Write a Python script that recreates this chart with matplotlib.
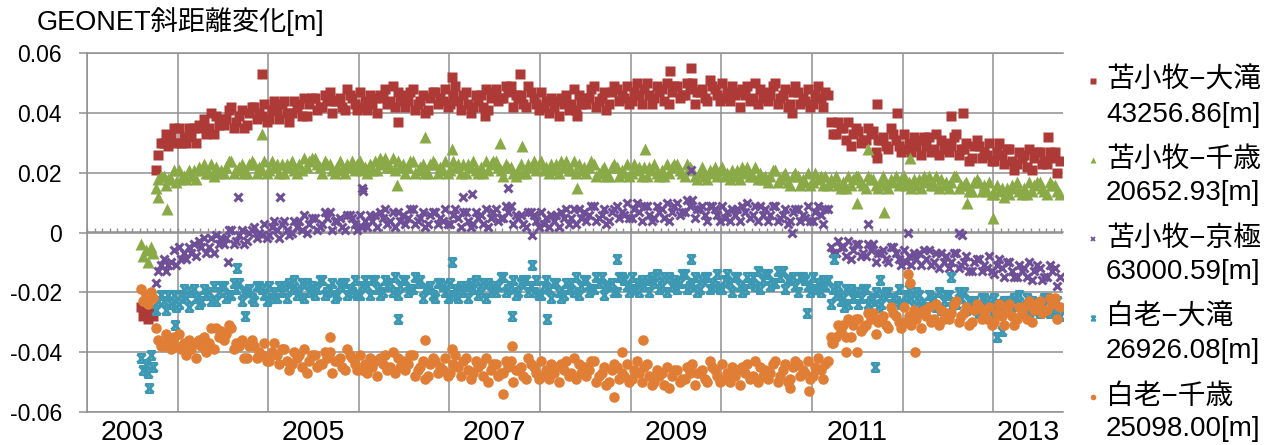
"""
GEONET slope-distance change, Tomakomai / Shiraoi baselines, 2003-2013.
Writes out.png
"""

import numpy as np
import pandas as pd
import matplotlib
matplotlib.use("Agg")
import matplotlib.pyplot as plt
from matplotlib.lines import Line2D
from matplotlib.path import Path
from matplotlib.ticker import FixedLocator, MultipleLocator, NullFormatter

plt.rcParams["font.family"] = ["Liberation Sans", "Noto Sans CJK JP"]
plt.rcParams["axes.unicode_minus"] = False

# ---------------------------------------------------------------------------
# Data: three readings per month (days 5, 15, 25), Aug 2003 - Sep 2013, in mm
# ---------------------------------------------------------------------------
MONTHS = pd.period_range("2003-08", "2013-09", freq="M")
DAYS = [5, 15, 25]

NAMES = ["苫小牧−大滝", "苫小牧−千歳", "苫小牧−京極", "白老−大滝", "白老−千歳"]
LENGTHS = ["43256.86[m]", "20652.93[m]", "63000.59[m]", "26926.08[m]", "25098.00[m]"]

TOMA_OTAKI = [
    -25, -28, -27, -29, -26, -28, 21, 26, 30, 30, 33, 29, 32, 35, 30,
    35, 30, 32, 30, 35, 32, 35, 30, 36, 35, 38, 33, 35, 40, 33, 39, 36, 38, 36, 38, 41, 42, 35, 37, 39, 41, 35, 36, 40, 42, 42, 38, 40, 39, 43, 37,
    38, 41, 44, 41, 38, 43, 44, 40, 37, 40, 44, 42, 43, 39, 45, 39, 43, 45, 45, 41, 42, 42, 46, 44, 47, 40, 44, 44, 45, 42, 41, 48, 46, 45, 43, 41,
    47, 42, 44, 41, 46, 43, 45, 40, 46, 45, 48, 43, 44, 49, 42, 47, 44, 46, 42, 44, 47, 48, 41, 43, 44, 46, 40, 41, 45, 47, 47, 43, 45, 44, 48, 42,
    43, 46, 49, 44, 41, 46, 47, 43, 40, 42, 46, 44, 46, 42, 48, 41, 45, 47, 48, 44, 45, 45, 49, 47, 49, 42, 46, 45, 46, 43, 42, 49, 47, 45, 43, 41,
    47, 42, 44, 40, 45, 42, 44, 39, 45, 43, 46, 41, 43, 48, 41, 46, 43, 45, 43, 45, 48, 49, 42, 44, 45, 47, 41, 43, 47, 49, 48, 44, 46, 45, 49, 43,
    44, 47, 50, 46, 43, 48, 50, 46, 43, 45, 49, 47, 48, 44, 50, 43, 47, 49, 49, 45, 46, 46, 50, 48, 50, 43, 47, 47, 48, 45, 44, 51, 49, 48, 46, 44,
    50, 45, 47, 44, 49, 46, 47, 42, 48, 46, 49, 44, 45, 50, 43, 48, 45, 47, 44, 46, 49, 50, 43, 45, 46, 48, 42, 43, 47, 49, 47, 43, 45, 44, 48, 42,
    43, 46, 49, 45, 42, 47, 46, 37, 33, 33, 37, 35, 35, 31, 37, 29, 33, 35, 34, 30, 31, 31, 35, 33, 34, 27, 31, 31, 32, 29, 28, 35, 33, 31, 29, 27,
    33, 28, 30, 27, 32, 29, 31, 26, 32, 29, 32, 27, 28, 33, 26, 31, 28, 30, 27, 29, 32, 33, 26, 28, 28, 30, 24, 25, 29, 31, 29, 25, 27, 26, 30, 24,
    24, 27, 30, 26, 23, 28, 28, 24, 21, 23, 27, 25, 26, 22, 28, 21, 25, 27, 27, 23, 24, 23, 27, 25, 27, 20, 24,
]
TOMA_CHITOSE = [
    -4, -8, -6, -10, -5, -7, 15, 18, 19, 19, 16, 18, 18, 21, 17,
    21, 18, 19, 18, 21, 19, 21, 18, 22, 21, 23, 20, 20, 23, 19, 22, 20, 21, 20, 22, 24, 24, 20, 21, 22, 23, 20, 20, 23, 24, 23, 20, 22, 21, 24, 20,
    21, 24, 22, 23, 20, 23, 20, 23, 22, 24, 21, 20, 23, 21, 25, 22, 24, 25, 25, 23, 22, 20, 24, 23, 23, 21, 20, 22, 24, 21, 20, 23, 22, 24, 21, 23,
    24, 21, 22, 20, 23, 21, 24, 21, 25, 23, 25, 22, 22, 25, 21, 24, 22, 23, 20, 22, 24, 24, 20, 21, 22, 23, 20, 20, 23, 24, 23, 20, 22, 21, 24, 20,
    21, 24, 22, 23, 20, 23, 20, 23, 22, 24, 21, 20, 22, 20, 24, 21, 23, 24, 24, 22, 21, 19, 23, 22, 22, 20, 19, 21, 23, 20, 20, 23, 22, 24, 21, 23,
    24, 21, 22, 20, 23, 21, 23, 20, 24, 22, 24, 21, 21, 24, 20, 23, 21, 22, 20, 22, 24, 23, 19, 20, 21, 22, 19, 19, 22, 23, 22, 19, 21, 20, 23, 19,
    20, 23, 21, 22, 19, 22, 19, 22, 21, 23, 20, 19, 21, 19, 23, 20, 22, 23, 23, 21, 20, 19, 23, 22, 21, 19, 18, 20, 22, 19, 18, 21, 20, 22, 19, 21,
    22, 19, 20, 18, 21, 19, 21, 18, 22, 20, 22, 19, 19, 22, 18, 20, 18, 19, 17, 19, 21, 21, 17, 18, 19, 20, 17, 16, 19, 20, 19, 16, 18, 17, 20, 16,
    17, 20, 18, 19, 16, 19, 16, 18, 17, 19, 16, 15, 17, 15, 19, 16, 18, 19, 19, 17, 16, 15, 19, 18, 18, 16, 15, 17, 19, 16, 15, 18, 17, 19, 16, 18,
    19, 16, 17, 15, 18, 16, 18, 15, 19, 17, 19, 16, 16, 19, 15, 18, 16, 17, 15, 17, 19, 19, 15, 16, 16, 17, 14, 14, 17, 18, 17, 14, 16, 14, 17, 13,
    13, 16, 14, 15, 12, 15, 13, 16, 15, 17, 14, 13, 15, 13, 17, 14, 16, 17, 17, 15, 14, 13, 17, 16, 16, 14, 13,
]
TOMA_KYOGOKU = [
    np.nan, np.nan, np.nan, np.nan, np.nan, np.nan, -17, -13, -11, -9, -13, -11, -10, -6, -11,
    -5, -9, -7, -9, -5, -7, -4, -8, -3, -5, -2, -7, -5, -2, -7, -1, -4, -2, -4, -2, 1, 1, -4, -3, -1, 1, -4, -3, 0, 1, 2, -2, 0, -1, 3, -2,
    -1, 2, 4, 1, -2, 3, 4, 1, -1, 0, 4, 2, 4, 1, 6, 0, 3, 5, 5, 1, 2, 3, 7, 5, 7, 1, 4, 4, 5, 2, 1, 6, 6, 5, 3, 1,
    6, 2, 4, 2, 6, 4, 6, 2, 7, 5, 8, 3, 4, 7, 2, 7, 4, 6, 3, 5, 8, 8, 3, 4, 5, 7, 2, 3, 6, 7, 7, 3, 5, 4, 8, 3,
    3, 6, 8, 5, 2, 7, 7, 4, 2, 3, 7, 5, 6, 3, 8, 2, 5, 7, 8, 4, 5, 5, 9, 7, 9, 3, 6, 5, 6, 3, 2, 7, 7, 6, 4, 2,
    7, 3, 5, 2, 6, 4, 6, 2, 7, 5, 8, 3, 5, 8, 3, 8, 5, 7, 4, 6, 9, 9, 4, 5, 6, 8, 3, 4, 7, 8, 9, 5, 7, 6, 10, 5,
    5, 8, 10, 7, 4, 9, 9, 6, 4, 5, 9, 7, 8, 5, 10, 4, 7, 9, 10, 6, 7, 7, 11, 9, 11, 5, 8, 8, 9, 6, 4, 9, 9, 8, 6, 4,
    9, 5, 7, 4, 8, 6, 8, 4, 9, 7, 10, 5, 6, 9, 4, 9, 6, 8, 4, 6, 9, 9, 4, 5, 6, 8, 3, 4, 7, 8, 8, 4, 6, 5, 9, 4,
    4, 7, 9, 6, 3, 8, 8, -5, -7, -7, -3, -5, -5, -8, -3, -9, -6, -4, -4, -8, -7, -8, -4, -6, -4, -10, -7, -7, -6, -9, -10, -5, -5, -7, -9, -11,
    -6, -10, -8, -11, -7, -9, -7, -11, -6, -9, -6, -11, -10, -7, -12, -7, -10, -8, -12, -10, -7, -7, -12, -11, -10, -8, -13, -13, -10, -9, -9, -13, -11, -12, -8, -13,
    -14, -11, -9, -12, -15, -10, -10, -13, -15, -15, -11, -13, -12, -15, -10, -16, -13, -11, -12, -16, -15, -15, -11, -13, -12, -18, -15,
]
SHIRA_OTAKI = [
    -42, -46, -44, -47, -41, -45, -26, -23, -21, -23, -26, -21, -24, -21, -25,
    -24, -21, -19, -22, -25, -20, -19, -22, -24, -23, -19, -21, -20, -23, -18, -23, -20, -18, -18, -22, -21, -21, -17, -19, -17, -23, -20, -20, -19, -22, -23, -18, -18, -19, -21, -23,
    -18, -22, -20, -22, -18, -20, -18, -22, -17, -19, -16, -21, -20, -17, -22, -17, -20, -18, -21, -19, -16, -16, -21, -20, -19, -17, -22, -21, -18, -17, -17, -21, -19, -20, -16, -21,
    -21, -18, -16, -18, -21, -16, -16, -19, -21, -20, -16, -18, -17, -20, -15, -21, -18, -16, -16, -20, -19, -19, -15, -17, -16, -22, -19, -19, -18, -21, -22, -17, -17, -18, -20, -22,
    -17, -21, -19, -22, -18, -20, -18, -22, -17, -19, -16, -21, -20, -17, -22, -17, -20, -18, -20, -18, -15, -15, -20, -19, -18, -16, -21, -20, -17, -16, -16, -20, -18, -20, -16, -21,
    -21, -18, -16, -19, -22, -17, -17, -20, -22, -21, -17, -19, -17, -20, -15, -21, -18, -16, -16, -20, -19, -19, -15, -17, -15, -21, -18, -18, -17, -20, -20, -15, -15, -16, -18, -20,
    -15, -19, -17, -20, -16, -18, -16, -20, -15, -17, -14, -19, -18, -15, -20, -15, -18, -16, -19, -17, -14, -14, -19, -18, -17, -15, -20, -19, -16, -15, -15, -19, -17, -18, -14, -19,
    -19, -16, -14, -17, -20, -15, -15, -18, -20, -19, -15, -17, -15, -18, -13, -19, -16, -14, -14, -18, -17, -17, -13, -15, -13, -19, -16, -16, -15, -18, -20, -15, -15, -16, -18, -20,
    -15, -19, -17, -20, -16, -18, -16, -24, -19, -21, -18, -23, -22, -19, -24, -19, -22, -20, -24, -22, -19, -19, -24, -23, -22, -20, -25, -24, -21, -20, -20, -24, -22, -23, -19, -24,
    -24, -21, -19, -22, -25, -20, -21, -24, -26, -25, -21, -23, -22, -25, -20, -26, -23, -21, -21, -25, -24, -24, -20, -22, -20, -26, -23, -24, -23, -26, -27, -22, -22, -23, -25, -27,
    -22, -26, -24, -27, -23, -25, -23, -27, -22, -24, -21, -26, -25, -22, -27, -23, -26, -24, -27, -25, -22, -22, -27, -26, -25, -23, -28,
]
SHIRA_CHITOSE = [
    -19, -23, -21, -24, -20, -22, -32, -36, -38, -38, -34, -36, -39, -35, -38,
    -34, -39, -37, -41, -36, -39, -37, -42, -36, -38, -35, -40, -37, -32, -39, -32, -35, -33, -36, -34, -31, -32, -39, -37, -38, -36, -42, -42, -38, -36, -38, -42, -40, -41, -37, -43,
    -43, -40, -37, -41, -44, -39, -39, -43, -46, -44, -40, -42, -41, -45, -39, -47, -43, -41, -41, -45, -44, -44, -40, -42, -40, -47, -43, -43, -42, -45, -46, -39, -41, -42, -44, -46,
    -41, -46, -44, -47, -42, -45, -43, -48, -42, -44, -41, -46, -45, -40, -47, -42, -45, -43, -46, -44, -41, -41, -48, -46, -45, -43, -49, -48, -44, -42, -43, -47, -45, -46, -42, -48,
    -47, -44, -41, -45, -48, -43, -42, -46, -49, -47, -43, -45, -44, -48, -42, -50, -46, -44, -44, -48, -47, -47, -43, -45, -43, -50, -46, -46, -45, -48, -49, -42, -44, -45, -47, -49,
    -43, -48, -46, -49, -44, -47, -45, -50, -44, -46, -43, -48, -47, -42, -49, -44, -47, -45, -48, -46, -43, -43, -50, -48, -47, -45, -51, -50, -46, -44, -45, -49, -47, -48, -44, -50,
    -49, -46, -43, -47, -50, -45, -44, -48, -51, -50, -46, -48, -47, -51, -45, -52, -48, -46, -46, -50, -49, -49, -45, -47, -44, -51, -47, -47, -46, -49, -50, -43, -45, -46, -48, -50,
    -44, -49, -47, -50, -45, -48, -46, -51, -45, -47, -44, -49, -48, -43, -50, -45, -48, -46, -49, -47, -44, -43, -50, -48, -46, -44, -50, -49, -45, -43, -44, -48, -46, -47, -43, -49,
    -48, -45, -42, -46, -49, -44, -43, -35, -37, -35, -31, -33, -31, -35, -29, -35, -31, -29, -29, -33, -32, -31, -27, -29, -27, -34, -30, -29, -28, -31, -32, -25, -27, -28, -30, -32,
    -25, -30, -28, -31, -26, -29, -27, -32, -26, -28, -25, -30, -29, -24, -31, -26, -29, -27, -29, -27, -24, -23, -30, -28, -27, -25, -31, -30, -26, -24, -25, -29, -27, -29, -25, -31,
    -30, -27, -24, -28, -31, -26, -24, -28, -31, -29, -25, -27, -25, -29, -23, -30, -26, -24, -23, -27, -26, -26, -22, -24, -22, -29, -25,
]

# isolated readings away from the main band (decimal year, mm)
TOMA_OTAKI_OUT_T = [2004.93, 2007.03, 2007.78, 2009.43, 2009.66, 2006.43, 2007.39, 2008.41,
                    2010.78, 2011.72, 2011.94, 2012.53, 2012.67, 2011.72, 2013.60]
TOMA_OTAKI_OUT_V = [53, 52, 53, 54, 55, 37, 39, 39, 40, 43, 40, 39, 40, 25, 32]
TOMA_CHITOSE_OUT_T = [2003.78, 2003.88, 2004.93, 2006.42, 2006.73, 2007.03, 2007.56, 2007.80,
                      2008.41, 2009.16, 2011.50, 2011.62, 2011.80, 2012.08, 2012.71, 2013.00]
TOMA_CHITOSE_OUT_V = [12, 8, 33, 16, 32, 28, 30, 29, 15, 28, 10, 28, 7, 25, 10, 5]
TOMA_KYOGOKU_OUT_T = [2004.56, 2004.67, 2005.13, 2006.03, 2006.05, 2007.15, 2007.25, 2007.65,
                      2007.91, 2009.66, 2010.78, 2011.62, 2012.06, 2012.62, 2012.66]
TOMA_KYOGOKU_OUT_V = [-10, 12, 12, 15, 14, 12, 13, 15, -1, 21, 0, 3, 0, 0, -1]
SHIRA_OTAKI_OUT_T = [2003.68, 2003.97, 2004.66, 2004.74, 2006.43, 2007.03, 2007.69, 2007.91,
                     2008.08, 2008.85, 2009.66, 2010.95, 2011.24, 2011.35, 2011.70, 2011.75,
                     2012.53, 2013.04, 2013.10]
SHIRA_OTAKI_OUT_V = [-52, -31, -12, -28, -29, -10, -28, -11, -29, -9, -9, -27, -9, -25, -45,
                     -16, -15, -35, -33]
SHIRA_CHITOSE_OUT_T = [2005.68, 2006.73, 2007.03, 2007.59, 2007.69, 2008.81, 2008.90, 2009.14,
                       2010.76, 2010.97, 2011.22, 2011.38, 2011.50, 2012.06, 2012.08, 2012.14]
SHIRA_CHITOSE_OUT_V = [-35, -36, -39, -54, -38, -55, -40, -36, -52, -53, -37, -40, -40, -14,
                       -17, -40]

YEARS = list(range(2003, 2014))
YEAR_LABELS = ["2003", "2005", "2007", "2009", "2011", "2013"]
YTICKS = [-0.06, -0.04, -0.02, 0, 0.02, 0.04, 0.06]
YTICK_LABELS = ["-0.06", "-0.04", "-0.02", "0", "0.02", "0.04", "0.06"]
XMIN, XMAX = 2003.0, 2013.77

# Excel-style "star" marker: an x closed by bars at top and bottom
STAR = Path(
    [(-1, -1), (1, 1), (-1, 1), (1, -1), (-1, 1), (1, 1), (-1, -1), (1, -1)],
    [Path.MOVETO, Path.LINETO] * 4,
)

SERIES = [
    (TOMA_OTAKI, TOMA_OTAKI_OUT_T, TOMA_OTAKI_OUT_V,
     dict(marker="s", ms=7.6, color="#AD3A36", mec="none")),
    (TOMA_CHITOSE, TOMA_CHITOSE_OUT_T, TOMA_CHITOSE_OUT_V,
     dict(marker="^", ms=8.2, color="#8AAA48", mec="none")),
    (TOMA_KYOGOKU, TOMA_KYOGOKU_OUT_T, TOMA_KYOGOKU_OUT_V,
     dict(marker="x", ms=6.4, color="#6F4F98", mew=2.2)),
    (SHIRA_OTAKI, SHIRA_OTAKI_OUT_T, SHIRA_OTAKI_OUT_V,
     dict(marker=STAR, ms=6.0, color="#3D98B3", mew=2.0, mfc="none")),
    (SHIRA_CHITOSE, SHIRA_CHITOSE_OUT_T, SHIRA_CHITOSE_OUT_V,
     dict(marker="o", ms=7.6, color="#E07E36", mec="none")),
]
LEGEND_MS = [3.9, 4.4, 3.4, 3.2, 4.0]

GRID = "#8f8f8f"
W, H = 1279, 445


def decimal_years():
    t = []
    for m in MONTHS:
        for d in DAYS:
            t.append(m.year + (m.month - 1) / 12 + (d - 1) / 365.25)
    return np.array(t)


def fig_xy(px, py):
    return px / W, 1 - py / H


if __name__ == "__main__":
    t = decimal_years()

    fig = plt.figure(figsize=(W / 100, H / 100), dpi=100)
    ax = fig.add_axes([87 / W, 33 / H, 976 / W, 359 / H])

    for vals, out_t, out_v, style in SERIES:
        x = np.concatenate([t, out_t])
        y = np.concatenate([np.array(vals, dtype=float), out_v]) / 1000.0
        ax.plot(x, y, ls="none", zorder=3, **style)

    ax.set_xlim(XMIN, XMAX)
    ax.set_ylim(-0.06, 0.06)

    # gridlines on year boundaries, year labels centred inside each year
    ax.xaxis.set_major_locator(FixedLocator(YEARS))
    ax.xaxis.set_major_formatter(NullFormatter())
    label_pos = [int(s) + 0.5 for s in YEAR_LABELS[:-1]]
    label_pos.append((int(YEAR_LABELS[-1]) + XMAX) / 2)
    ax.xaxis.set_minor_locator(FixedLocator(label_pos))
    ax.set_xticklabels(YEAR_LABELS, minor=True)
    ax.tick_params(axis="x", which="both", length=0, pad=6, labelsize=20.5)

    ax.set_yticks(YTICKS)
    ax.set_yticklabels(YTICK_LABELS)
    ax.tick_params(axis="y", length=6, width=1.1, color=GRID, pad=12, labelsize=16.5)

    ax.grid(True, which="major", color=GRID, lw=1.1)
    ax.set_axisbelow(True)
    for side in ["left", "bottom", "top"]:
        ax.spines[side].set_color(GRID)
        ax.spines[side].set_linewidth(1.1)
    ax.spines["right"].set_visible(False)

    # horizontal axis crossing at zero, with monthly tick marks
    zero_axis = ax.secondary_xaxis(0.5)
    zero_axis.set_zorder(1)
    zero_axis.xaxis.set_major_locator(FixedLocator(YEARS))
    zero_axis.xaxis.set_minor_locator(MultipleLocator(1 / 12))
    zero_axis.xaxis.set_major_formatter(NullFormatter())
    zero_axis.xaxis.set_minor_formatter(NullFormatter())
    zero_axis.tick_params(which="both", direction="out", length=3.2, width=1.0, color=GRID)
    for sp in zero_axis.spines.values():
        sp.set_color(GRID)
        sp.set_linewidth(1.1)

    fig.text(*fig_xy(37, 22), "GEONET斜距離変化[m]", fontsize=19.5, ha="left", va="center")

    # legend: marker with two-line label (baseline name, baseline length)
    for i, (name, length, (_, _, _, style)) in enumerate(zip(NAMES, LENGTHS, SERIES)):
        y1 = 81 + 79 * i
        y2 = 115 + 78.5 * i
        key = dict(style)
        key["ms"] = LEGEND_MS[i]
        if "mew" in key:
            key["mew"] = 1.3
        fig.add_artist(Line2D([1093 / W], [1 - y1 / H], ls="none",
                              transform=fig.transFigure, **key))
        fig.text(*fig_xy(1106, y1), name, fontsize=20, ha="left", va="center")
        fig.text(*fig_xy(1106, y2), length, fontsize=20, ha="left", va="center")

    fig.savefig("out.png", dpi=100)
    plt.close(fig)
